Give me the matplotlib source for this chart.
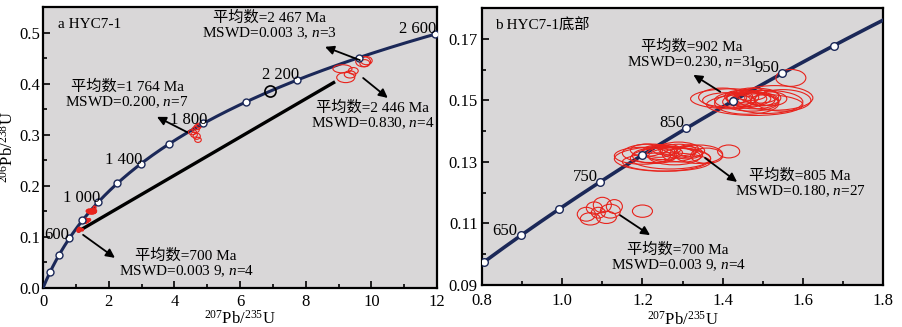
# -*- coding: utf-8 -*-
# U-Pb concordia diagrams, HYC7-1 (a) and HYC7-1 bottom (b)

import numpy as np
import matplotlib
matplotlib.use("Agg")
import matplotlib.pyplot as plt
from matplotlib.patches import Ellipse
from matplotlib.ticker import MultipleLocator, FormatStrFormatter

# ----------------
# Module constants
# ----------------

plt.rcParams["font.family"] = ["Liberation Serif", "Noto Sans CJK SC"]
plt.rcParams["mathtext.fontset"] = "custom"
plt.rcParams["mathtext.rm"] = "Liberation Serif"
plt.rcParams["mathtext.it"] = "Liberation Serif:italic"

LAMBDA_238 = 1.55125e-10
LAMBDA_235 = 9.8485e-10

CURVE_COLOR = "#1b2858"
FACE = "#d9d7d8"
RED = "#e8231c"

# concordia marker ages (Ma)
AGES_A = [200, 400, 600, 800, 1000, 1200, 1400, 1600, 1800, 2000, 2200, 2400, 2600]
AGES_B = [600, 650, 700, 750, 800, 850, 900, 950, 1000]
AGE_RING_A = [2100]

# age labels
LABELS_A = ["600", "1 000", "1 400", "1 800", "2 200", "2 600"]
LABELS_A_X = [0.43, 1.19, 2.47, 4.45, 7.22, 11.42]
LABELS_A_Y = [0.104, 0.176, 0.2505, 0.329, 0.417, 0.507]
LABELS_B = ["650", "750", "850", "950"]
LABELS_B_X = [0.857, 1.057, 1.274, 1.511]
LABELS_B_Y = [0.1075, 0.1251, 0.1426, 0.1605]

# discordia ends
DISC_X = [1.1, 8.85]
DISC_Y = [0.112, 0.402]

# spot ellipses: centre x, centre y, width, height (2-sigma)
E902_X = [1.46, 1.48, 1.45, 1.50, 1.47, 1.43, 1.52, 1.44, 1.49, 1.46, 1.42, 1.51,
          1.53, 1.40, 1.48, 1.55, 1.47, 1.45, 1.50, 1.57, 1.41]
E902_Y = [0.1505, 0.1500, 0.1510, 0.1508, 0.1495, 0.1500, 0.1505, 0.1512, 0.1515,
          0.1490, 0.1505, 0.1495, 0.1508, 0.1510, 0.1486, 0.1500, 0.1520, 0.1498,
          0.1500, 0.1573, 0.1500]
E902_W = [0.10, 0.12, 0.08, 0.09, 0.14, 0.10, 0.08, 0.07, 0.10, 0.16, 0.20, 0.18,
          0.19, 0.12, 0.24, 0.14, 0.08, 0.06, 0.06, 0.075, 0.12]
E902_H = [0.0050, 0.0055, 0.0045, 0.0050, 0.0060, 0.0050, 0.0045, 0.0040, 0.0048,
          0.0070, 0.0065, 0.0075, 0.0080, 0.0060, 0.0070, 0.0070, 0.0040, 0.0035,
          0.0035, 0.0055, 0.0050]

E805_X = [1.25, 1.27, 1.29, 1.23, 1.31, 1.26, 1.28, 1.24, 1.30, 1.22, 1.27, 1.20,
          1.32, 1.25, 1.29, 1.34, 1.26, 1.21, 1.36, 1.415]
E805_Y = [0.1330, 0.1325, 0.1335, 0.1320, 0.1330, 0.1340, 0.1318, 0.1335, 0.1322,
          0.1328, 0.1312, 0.1320, 0.1336, 0.1310, 0.1342, 0.1325, 0.1300, 0.1338,
          0.1320, 0.1334]
E805_W = [0.10, 0.12, 0.09, 0.11, 0.08, 0.07, 0.13, 0.08, 0.10, 0.14, 0.20, 0.14,
          0.07, 0.24, 0.10, 0.12, 0.22, 0.08, 0.08, 0.055]
E805_H = [0.0045, 0.0050, 0.0045, 0.0050, 0.0040, 0.0035, 0.0055, 0.0040, 0.0045,
          0.0060, 0.0070, 0.0055, 0.0040, 0.0080, 0.0045, 0.0060, 0.0060, 0.0040,
          0.0050, 0.0042]

E700_X = [1.06, 1.08, 1.10, 1.12, 1.07, 1.13, 1.11, 1.09, 1.20]
E700_Y = [0.1130, 0.1150, 0.1160, 0.1140, 0.1115, 0.1155, 0.1120, 0.1135, 0.1140]
E700_W = [0.045, 0.040, 0.045, 0.050, 0.050, 0.040, 0.050, 0.035, 0.050]
E700_H = [0.0045, 0.0040, 0.0050, 0.0045, 0.0040, 0.0045, 0.0040, 0.0035, 0.0040]

E1764_X = [4.55, 4.65, 4.70, 4.60, 4.75, 4.68, 4.72]
E1764_Y = [0.305, 0.310, 0.315, 0.300, 0.318, 0.297, 0.290]
E1764_W = [0.25, 0.22, 0.20, 0.20, 0.18, 0.22, 0.20]
E1764_H = [0.010, 0.012, 0.010, 0.010, 0.009, 0.012, 0.010]

E2467_X = [9.75, 9.85, 9.80]
E2467_Y = [0.443, 0.445, 0.440]
E2467_W = [0.45, 0.35, 0.30]
E2467_H = [0.020, 0.016, 0.014]

E2446_X = [9.12, 9.22, 9.35, 9.45]
E2446_Y = [0.429, 0.412, 0.418, 0.425]
E2446_W = [0.58, 0.55, 0.35, 0.30]
E2446_H = [0.016, 0.020, 0.014, 0.013]

# annotation text, text centre, arrow tail, arrow head
NOTES_A = [
    ("平均数=2 467 Ma\nMSWD=0.003 3, $n$=3", (6.9, 0.513), (9.65, 0.446), (8.59, 0.472)),
    ("平均数=2 446 Ma\nMSWD=0.830, $n$=4", (10.05, 0.337), (9.75, 0.411), (10.5, 0.372)),
    ("平均数=1 764 Ma\nMSWD=0.200, $n$=7", (2.56, 0.378), (4.39, 0.305), (3.47, 0.335)),
    ("平均数=700 Ma\nMSWD=0.003 9, $n$=4", (4.36, 0.048), (1.22, 0.104), (2.19, 0.059)),
]
NOTES_B = [
    ("平均数=902 Ma\nMSWD=0.230, $n$=31", (1.324, 0.1647), (1.394, 0.1528), (1.327, 0.1583)),
    ("平均数=805 Ma\nMSWD=0.180, $n$=27", (1.593, 0.1230), (1.356, 0.1313), (1.436, 0.1235)),
    ("平均数=700 Ma\nMSWD=0.003 9, $n$=4", (1.289, 0.0989), (1.144, 0.1127), (1.219, 0.1062)),
]


# -------------------
# Auxiliary functions
# -------------------

def concordia(ages_ma):
    t = np.asarray(ages_ma, dtype=float) * 1e6
    return np.exp(LAMBDA_235 * t) - 1, np.exp(LAMBDA_238 * t) - 1


def draw_ellipses(ax, xs, ys, ws, hs, lw=0.8):
    for x, y, w, h in zip(xs, ys, ws, hs):
        ax.add_patch(Ellipse((x, y), w, h, fill=False, edgecolor=RED, lw=lw, zorder=4))


def draw_notes(ax, notes):
    for text, xy_text, tail, head in notes:
        ax.text(*xy_text, text, ha="center", va="center", multialignment="center",
                fontsize=11, linespacing=1.05, zorder=6)
        ax.annotate("", xy=head, xytext=tail,
                    arrowprops=dict(arrowstyle="-|>", color="black", lw=1.3,
                                    mutation_scale=13, shrinkA=0, shrinkB=0), zorder=6)


def style_axes(ax, xpad=4, ypad=2):
    ax.set_facecolor(FACE)
    for sp in ax.spines.values():
        sp.set_linewidth(1.6)
    ax.tick_params(which="both", direction="in", labelsize=12, width=1.2)
    ax.tick_params(which="major", length=5)
    ax.tick_params(which="minor", length=3)
    ax.tick_params(axis="x", pad=xpad)
    ax.tick_params(axis="y", pad=ypad)


# ----------
# The figure
# ----------

fig = plt.figure(figsize=(9.02, 3.27), dpi=100)
ax_a = fig.add_axes([0.0477, 0.1193, 0.4368, 0.8593])
ax_b = fig.add_axes([0.5344, 0.1284, 0.4446, 0.8470])

# panel a
style_axes(ax_a)
cx, cy = concordia(np.linspace(0, 2650, 400))
ax_a.plot(cx, cy, color=CURVE_COLOR, lw=2.2, zorder=3)
ax_a.plot(DISC_X, DISC_Y, color="black", lw=2.4, zorder=3)
mx, my = concordia(AGES_A)
ax_a.plot(mx, my, "o", ms=5, mfc="white", mec=CURVE_COLOR, mew=1.0, zorder=5)
rx, ry = concordia(AGE_RING_A)
ax_a.plot(rx, ry, "o", ms=8, mfc="none", mec="black", mew=1.2, zorder=5)
draw_ellipses(ax_a, E902_X, E902_Y, E902_W, E902_H, lw=1.2)
draw_ellipses(ax_a, E805_X, E805_Y, E805_W, E805_H, lw=1.2)
draw_ellipses(ax_a, E700_X, E700_Y, E700_W, E700_H, lw=1.2)
draw_ellipses(ax_a, E1764_X, E1764_Y, E1764_W, E1764_H)
draw_ellipses(ax_a, E2467_X, E2467_Y, E2467_W, E2467_H)
draw_ellipses(ax_a, E2446_X, E2446_Y, E2446_W, E2446_H)
for lab, x, y in zip(LABELS_A, LABELS_A_X, LABELS_A_Y):
    ax_a.text(x, y, lab, ha="center", va="center", fontsize=12, zorder=6)
draw_notes(ax_a, NOTES_A)
ax_a.text(0.46, 0.515, "a HYC7-1", ha="left", va="center", fontsize=11)
ax_a.set_xlim(0, 12)
ax_a.set_ylim(0, 0.55)
ax_a.xaxis.set_major_locator(MultipleLocator(2))
ax_a.xaxis.set_minor_locator(MultipleLocator(1))
ax_a.yaxis.set_major_locator(MultipleLocator(0.1))
ax_a.yaxis.set_minor_locator(MultipleLocator(0.05))
ax_a.yaxis.set_major_formatter(FormatStrFormatter("%.1f"))
ax_a.set_xlabel("$^{207}$Pb/$^{235}$U", fontsize=12, labelpad=0)
ax_a.set_ylabel("$^{206}$Pb/$^{238}$U", fontsize=12, labelpad=2)

# panel b
style_axes(ax_b, xpad=6, ypad=3)
cx, cy = concordia(np.linspace(550, 1100, 300))
ax_b.plot(cx, cy, color=CURVE_COLOR, lw=2.6, zorder=3)
mx, my = concordia(AGES_B)
ax_b.plot(mx, my, "o", ms=5.5, mfc="white", mec=CURVE_COLOR, mew=1.0, zorder=5)
draw_ellipses(ax_b, E902_X, E902_Y, E902_W, E902_H)
draw_ellipses(ax_b, E805_X, E805_Y, E805_W, E805_H)
draw_ellipses(ax_b, E700_X, E700_Y, E700_W, E700_H)
for lab, x, y in zip(LABELS_B, LABELS_B_X, LABELS_B_Y):
    ax_b.text(x, y, lab, ha="center", va="center", fontsize=12, zorder=6)
draw_notes(ax_b, NOTES_B)
ax_b.text(0.832, 0.1744, "b HYC7-1底部", ha="left", va="center", fontsize=11)
ax_b.set_xlim(0.8, 1.8)
ax_b.set_ylim(0.09, 0.18)
ax_b.xaxis.set_major_locator(MultipleLocator(0.2))
ax_b.xaxis.set_minor_locator(MultipleLocator(0.1))
ax_b.xaxis.set_major_formatter(FormatStrFormatter("%.1f"))
ax_b.set_yticks([0.09, 0.11, 0.13, 0.15, 0.17])
ax_b.yaxis.set_minor_locator(MultipleLocator(0.01))
ax_b.yaxis.set_major_formatter(FormatStrFormatter("%.2f"))
ax_b.set_xlabel("$^{207}$Pb/$^{235}$U", fontsize=12, labelpad=1)

fig.savefig("out.png", dpi=100)
